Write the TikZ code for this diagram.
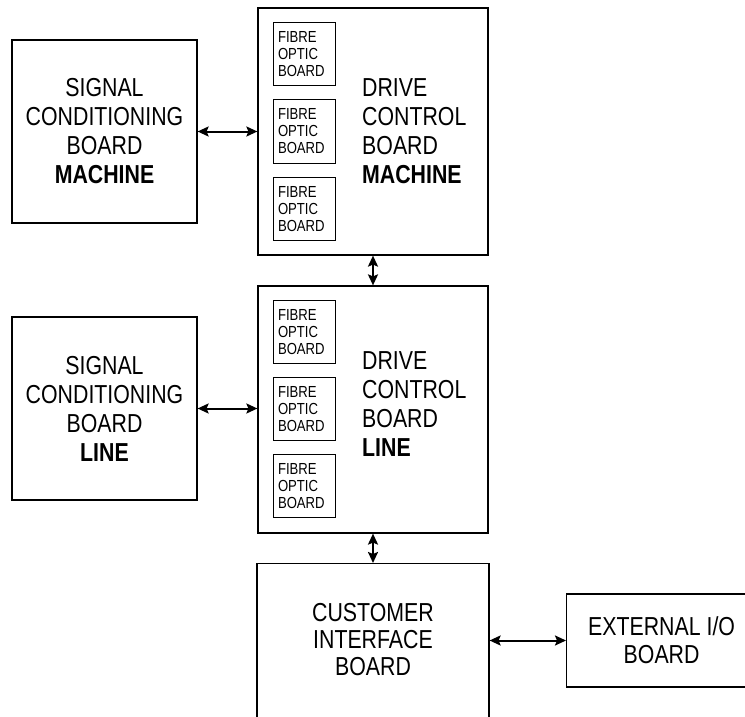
\documentclass[tikz,border=0pt]{standalone}
\usepackage{fontspec}
\setmainfont{Liberation Sans}[FakeStretch=0.82]
\usetikzlibrary{arrows.meta}

\tikzset{
  board/.style={draw, line width=1.2pt, inner sep=0pt},
  fibre/.style={draw, line width=1pt, align=left, text width=52pt, inner sep=5pt,
    minimum height=63pt, font=\fontsize{16}{17}\selectfont},
  bigtext/.style={align=center, inner sep=0pt, font=\fontsize{26}{29}\selectfont},
  link/.style={line width=2pt, {Stealth[length=11pt,width=10pt,inset=2pt]}-{Stealth[length=11pt,width=10pt,inset=2pt]}}
}

\begin{document}
\begin{tikzpicture}[x=1pt,y=-1pt]
\useasboundingbox (0,0) rectangle (745,717);
\clip (0,0) rectangle (745,717);

% machine side
\node[board, bigtext, minimum width=185pt, minimum height=183pt] (scm) at (104.5,131.5) {SIGNAL\\CONDITIONING\\BOARD\\\textbf{MACHINE}};
\node[board, minimum width=230pt, minimum height=247pt] (dcbm) at (373,131.5) {};
\node[fibre] (fom1) at (304,54.5) {FIBRE\\OPTIC\\BOARD};
\node[fibre] (fom2) at (304,131.5) {FIBRE\\OPTIC\\BOARD};
\node[fibre] (fom3) at (304,209) {FIBRE\\OPTIC\\BOARD};
\node[bigtext, align=left, anchor=west] (dcbmtext) at (362,131.5) {DRIVE\\CONTROL\\BOARD\\\textbf{MACHINE}};

% line side
\node[board, bigtext, minimum width=185pt, minimum height=183pt] (scl) at (104.5,408.5) {SIGNAL\\CONDITIONING\\BOARD\\\textbf{LINE}};
\node[board, minimum width=230pt, minimum height=247pt] (dcbl) at (373,409.5) {};
\node[fibre] (fol1) at (304,332) {FIBRE\\OPTIC\\BOARD};
\node[fibre] (fol2) at (304,409) {FIBRE\\OPTIC\\BOARD};
\node[fibre] (fol3) at (304,486) {FIBRE\\OPTIC\\BOARD};
\node[bigtext, align=left, anchor=west] (dcbltext) at (362,404) {DRIVE\\CONTROL\\BOARD\\\textbf{LINE}};

% customer interface and external I/O
\node[board, anchor=north, minimum width=232pt, minimum height=175pt] (cib) at (373,563) {};
\node[bigtext, font=\fontsize{26}{27}\selectfont] (cibtext) at (373,640) {CUSTOMER\\INTERFACE\\BOARD};
\node[board, bigtext, font=\fontsize{26}{28}\selectfont, anchor=west, minimum width=190pt, minimum height=93pt] (ext) at (566,640.5) {EXTERNAL I/O\\BOARD};

\draw[link] (scm.east) -- (scm.east -| dcbm.west);
\draw[link] (scl.east) -- (scl.east -| dcbl.west);
\draw[link] (dcbm.south) -- (dcbl.north);
\draw[link] (dcbl.south) -- (cib.north);
\draw[link] (ext.west -| cib.east) -- (ext.west);
\end{tikzpicture}
\end{document}
